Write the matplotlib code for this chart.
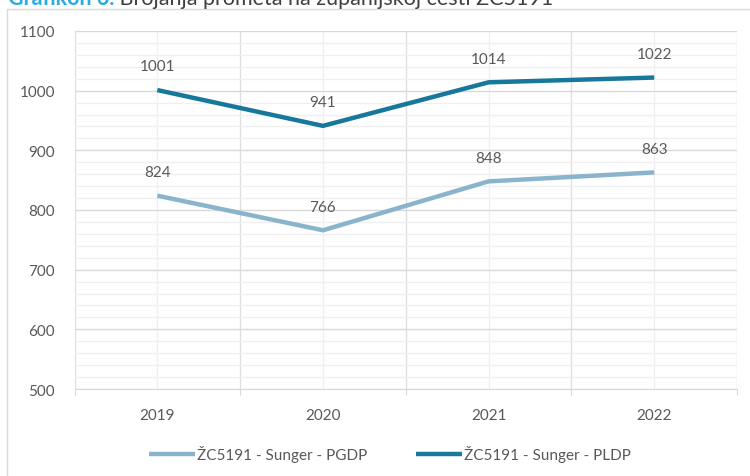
import matplotlib
matplotlib.use("Agg")
import matplotlib.pyplot as plt
from matplotlib.ticker import MultipleLocator, FixedLocator
from matplotlib.patches import Rectangle

years = ["2019", "2020", "2021", "2022"]
pgdp = [824, 766, 848, 863]
pldp = [1001, 941, 1014, 1022]
series_names = ["ŽC5191 - Sunger - PGDP", "ŽC5191 - Sunger - PLDP"]
title_prefix = "Grafikon 6."
title_text = " Brojanja prometa na županijskoj cesti ŽC5191"

plt.rcParams['font.family'] = ['Lato', 'DejaVu Sans']

W, H = 750, 477
fig = plt.figure(figsize=(W / 100, H / 100), dpi=100)
fig.patch.set_facecolor("white")

# outer chart frame
fig.patches.append(Rectangle((7 / W, -0.05), 1.2, 1 - 10 / H + 0.05, transform=fig.transFigure,
                             fill=False, edgecolor="#d9d9d9", linewidth=1))

ax = fig.add_axes([74.5 / W, 1 - 390 / H, (737 - 74.5) / W, (390 - 32) / H])
x = list(range(len(years)))
c_light = "#8ab3cc"
c_dark = "#17789b"
ax.plot(x, pgdp, color=c_light, lw=3.2, solid_capstyle="butt", label=series_names[0], zorder=3)
ax.plot(x, pldp, color=c_dark, lw=3.2, solid_capstyle="butt", label=series_names[1], zorder=3)

for xi, v in zip(x, pgdp):
    ax.annotate(str(v), (xi, v), xytext=(0, 12), textcoords="offset points",
                ha="center", va="bottom", fontsize=11, color="#595959")
for xi, v in zip(x, pldp):
    ax.annotate(str(v), (xi, v), xytext=(0, 12), textcoords="offset points",
                ha="center", va="bottom", fontsize=11, color="#595959")

ax.set_xlim(-0.5, len(years) - 0.5)
ax.set_ylim(500, 1100)
ax.yaxis.set_major_locator(MultipleLocator(100))
ax.yaxis.set_minor_locator(MultipleLocator(20))
ax.xaxis.set_major_locator(FixedLocator([i - 0.5 for i in range(len(years) + 1)]))
ax.set_xticks(x, minor=True)
ax.set_xticklabels(years, minor=True)
ax.set_xticklabels([], minor=False)

ax.grid(which="major", axis="y", color="#d9d9d9", lw=1)
ax.grid(which="minor", axis="y", color="#efefef", lw=0.9)
ax.grid(which="major", axis="x", color="#dedede", lw=0.9)
ax.grid(which="minor", axis="x", color="#efefef", lw=0.9)
ax.set_axisbelow(True)

for s in ["top", "right", "left"]:
    ax.spines[s].set_visible(False)
ax.spines["bottom"].set_color("#d9d9d9")

ax.tick_params(axis="y", which="both", length=0, labelsize=11, labelcolor="#595959", pad=14)
ax.tick_params(axis="x", which="major", length=4, color="#d9d9d9", direction="out")
ax.tick_params(axis="x", which="minor", length=0, labelsize=11, labelcolor="#595959", pad=14)

fig.legend(loc="center", bbox_to_anchor=(390 / W, 1 - 455 / H), ncol=2, frameon=False,
           fontsize=11, handlelength=3.0, handletextpad=0.15, columnspacing=3.2,
           labelcolor="#595959")

# partially clipped title at top (as in the reference)
t1 = fig.text(8 / W, 1 - 5 / H, title_prefix, color="#29abe2", fontsize=15.5, fontweight="bold",
              va="baseline", ha="left")
fig.canvas.draw()
bb = t1.get_window_extent()
fig.text(bb.x1 / W, 1 - 5 / H, title_text, color="#404040", fontsize=15.5,
         va="baseline", ha="left")

fig.savefig("out.png", dpi=100)
